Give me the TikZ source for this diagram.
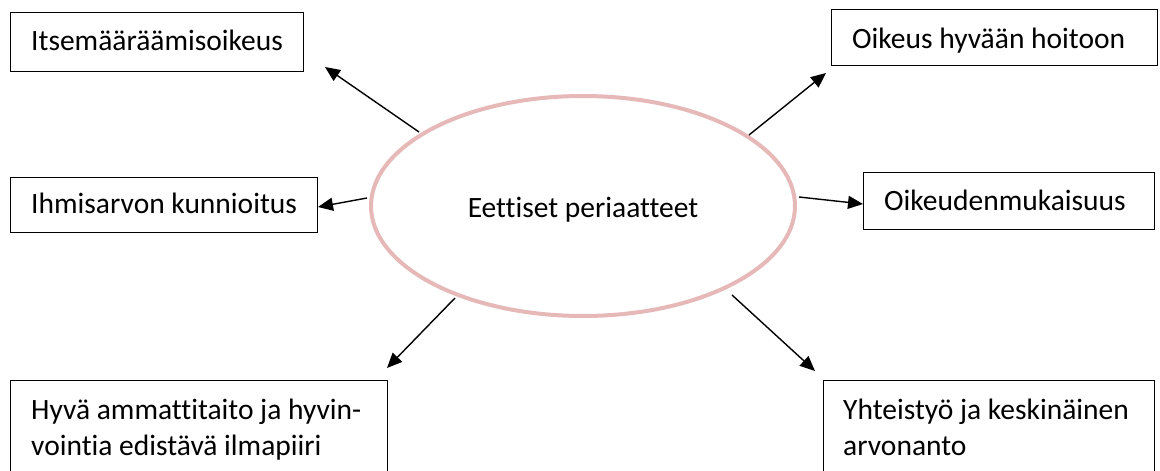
\documentclass[tikz,border=0pt]{standalone}
\usepackage{fontspec}
\setmainfont[Ligatures={NoCommon}]{Carlito}
\usetikzlibrary{shapes.geometric,arrows.meta}
\definecolor{ellpink}{RGB}{230,184,183}
\begin{document}
\begin{tikzpicture}[x=1pt,y=-1pt,
  box/.style={draw=black, line width=1.1pt, minimum width=#1, anchor=north west, inner sep=0pt},
  lbl/.style={anchor=base west, inner sep=0pt, font=\fontsize{29.5}{36}\selectfont},
  arr/.style={line width=1.4pt, -{Triangle[length=15pt,width=13pt]}}]
\useasboundingbox (0,0) rectangle (1160,471);
\clip (0,0) rectangle (1160,471);
\fill[white] (0,0) rectangle (1160,471);
% ellipse
\node[ellipse, draw=ellpink, line width=4pt, minimum width=424pt, minimum height=220pt, inner sep=0pt] (ell) at (583,206) {};
\node[anchor=base, inner sep=0pt, font=\fontsize{29.5}{36}\selectfont] (elltxt) at (583,217) {Eettiset periaatteet};
% boxes
\node[box=293pt, minimum height=59pt] (b1) at (10,12) {};
\node[lbl] (t1) at (31,50) {Itsemääräämisoikeus};
\node[box=326pt, minimum height=56pt] (b2) at (831,9) {};
\node[lbl] (t2) at (852,48) {Oikeus hyvään hoitoon};
\node[box=307pt, minimum height=55pt] (b3) at (10,177) {};
\node[lbl] (t3) at (31,213) {Ihmisarvon kunnioitus};
\node[box=291pt, minimum height=57pt] (b4) at (863,172) {};
\node[lbl] (t4) at (884,210) {Oikeudenmukaisuus};
\node[box=377pt, minimum height=120pt] (b5) at (10,380) {};
\node[lbl, align=left] (t5) at (31,455) {Hyvä ammattitaito ja hyvin-\\vointia edistävä ilmapiiri};
\node[box=331pt, minimum height=120pt] (b6) at (823,380) {};
\node[lbl, align=left] (t6) at (843,455) {Yhteistyö ja keskinäinen\\arvonanto};
% arrow end points
\coordinate (s1) at (419,132); \coordinate (e1) at (325,67);
\coordinate (s2) at (367,198); \coordinate (e2) at (318,207);
\coordinate (s3) at (749,135); \coordinate (e3) at (826,73);
\coordinate (s4) at (799,197); \coordinate (e4) at (863,204);
\coordinate (s5) at (455,298); \coordinate (e5) at (387,368);
\coordinate (s6) at (732,295); \coordinate (e6) at (815,371);
\draw[arr] (s1) -- (e1);
\draw[arr] (s2) -- (e2);
\draw[arr] (s3) -- (e3);
\draw[arr] (s4) -- (e4);
\draw[arr] (s5) -- (e5);
\draw[arr] (s6) -- (e6);
\end{tikzpicture}
\end{document}
